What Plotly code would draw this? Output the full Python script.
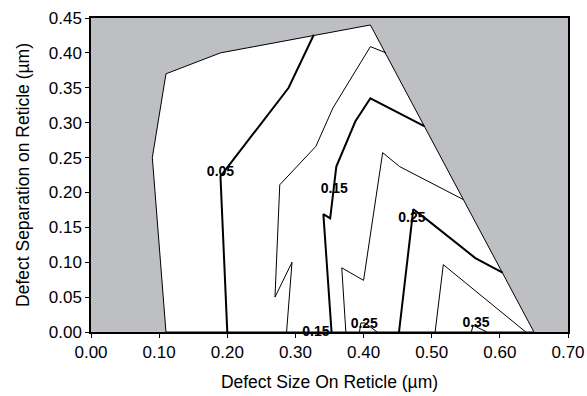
import plotly.graph_objects as go

# ---- data ----
# Boundary of the valid (white) region
region_x = [0.11, 0.09, 0.11, 0.19, 0.41, 0.65, 0.11]
region_y = [0.00, 0.25, 0.37, 0.40, 0.44, 0.00, 0.00]

# Contour lines
c005_x = [0.200, 0.190, 0.290, 0.327]
c005_y = [0.000, 0.223, 0.350, 0.426]

c010_x = [0.287, 0.295, 0.270, 0.277, 0.330, 0.355, 0.410, 0.433]
c010_y = [0.000, 0.100, 0.050, 0.211, 0.266, 0.321, 0.409, 0.400]

c015_x = [0.353, 0.341, 0.351, 0.360, 0.388, 0.410, 0.489]
c015_y = [0.000, 0.169, 0.163, 0.237, 0.302, 0.335, 0.295]

c020_x = [0.374, 0.368, 0.400, 0.428, 0.453, 0.546]
c020_y = [0.000, 0.092, 0.074, 0.257, 0.237, 0.190]

c025_x = [0.452, 0.473, 0.493, 0.564, 0.604]
c025_y = [0.000, 0.176, 0.161, 0.106, 0.085]

c030_x = [0.505, 0.517, 0.638]
c030_y = [0.000, 0.0965, 0.000]

c025b_x = [0.394, 0.396, 0.402, 0.420]
c025b_y = [0.000, 0.013, 0.013, 0.000]

c035_x = [0.558, 0.561, 0.581]
c035_y = [0.000, 0.0095, 0.000]

# Contour labels
label_x = [0.190, 0.357, 0.471, 0.330, 0.401, 0.565]
label_y = [0.228, 0.204, 0.163, 0.000, 0.011, 0.012]
label_text = ["0.05", "0.15", "0.25", "0.15", "0.25", "0.35"]

x_ticks = [0.0, 0.1, 0.2, 0.3, 0.4, 0.5, 0.6, 0.7]
y_ticks = [0.0, 0.05, 0.10, 0.15, 0.20, 0.25, 0.30, 0.35, 0.40, 0.45]

# ---- figure ----
fig = go.Figure()

fig.add_trace(go.Scatter(x=region_x, y=region_y, mode="lines", fill="toself",
                         fillcolor="white", line=dict(color="black", width=1),
                         hoverinfo="skip", showlegend=False))

thick = [(c005_x, c005_y), (c015_x, c015_y), (c025_x, c025_y)]
thin = [(c010_x, c010_y), (c020_x, c020_y), (c030_x, c030_y),
        (c025b_x, c025b_y), (c035_x, c035_y)]
for xs, ys in thin:
    fig.add_trace(go.Scatter(x=xs, y=ys, mode="lines",
                             line=dict(color="black", width=1),
                             showlegend=False, cliponaxis=False))
for xs, ys in thick:
    fig.add_trace(go.Scatter(x=xs, y=ys, mode="lines",
                             line=dict(color="black", width=2),
                             showlegend=False, cliponaxis=False))

fig.add_trace(go.Scatter(x=label_x, y=label_y, mode="text", text=label_text,
                         textposition="middle center",
                         textfont=dict(family="Liberation Sans, Arial",
                                       size=14, color="black", weight="bold"),
                         showlegend=False, cliponaxis=False))

axis_font = dict(family="Liberation Sans, Arial", size=17, color="black")
fig.update_layout(
    width=587, height=396,
    margin=dict(l=91, r=19, t=18, b=64),
    plot_bgcolor="#bebfc3",
    paper_bgcolor="white",
    font=axis_font,
    xaxis=dict(range=[0, 0.7], tickvals=x_ticks, tickformat=".2f",
               ticks="outside", ticklen=4, tickcolor="black",
               showline=True, linecolor="black", linewidth=1.5, mirror=True,
               showgrid=False, zeroline=False, automargin=False,
               title=dict(text="Defect Size On Reticle (\u00b5m)", font=dict(size=17.5)),
               tickfont=axis_font),
    yaxis=dict(range=[0, 0.45], tickvals=y_ticks, tickformat=".2f",
               ticks="outside", ticklen=4, tickcolor="black",
               showline=True, linecolor="black", linewidth=1.5, mirror=True,
               showgrid=False, zeroline=False, automargin=False,
               title=dict(text="Defect Separation on Reticle (\u00b5m)", font=dict(size=17.5)),
               tickfont=axis_font),
)

fig.write_html("out.html")
